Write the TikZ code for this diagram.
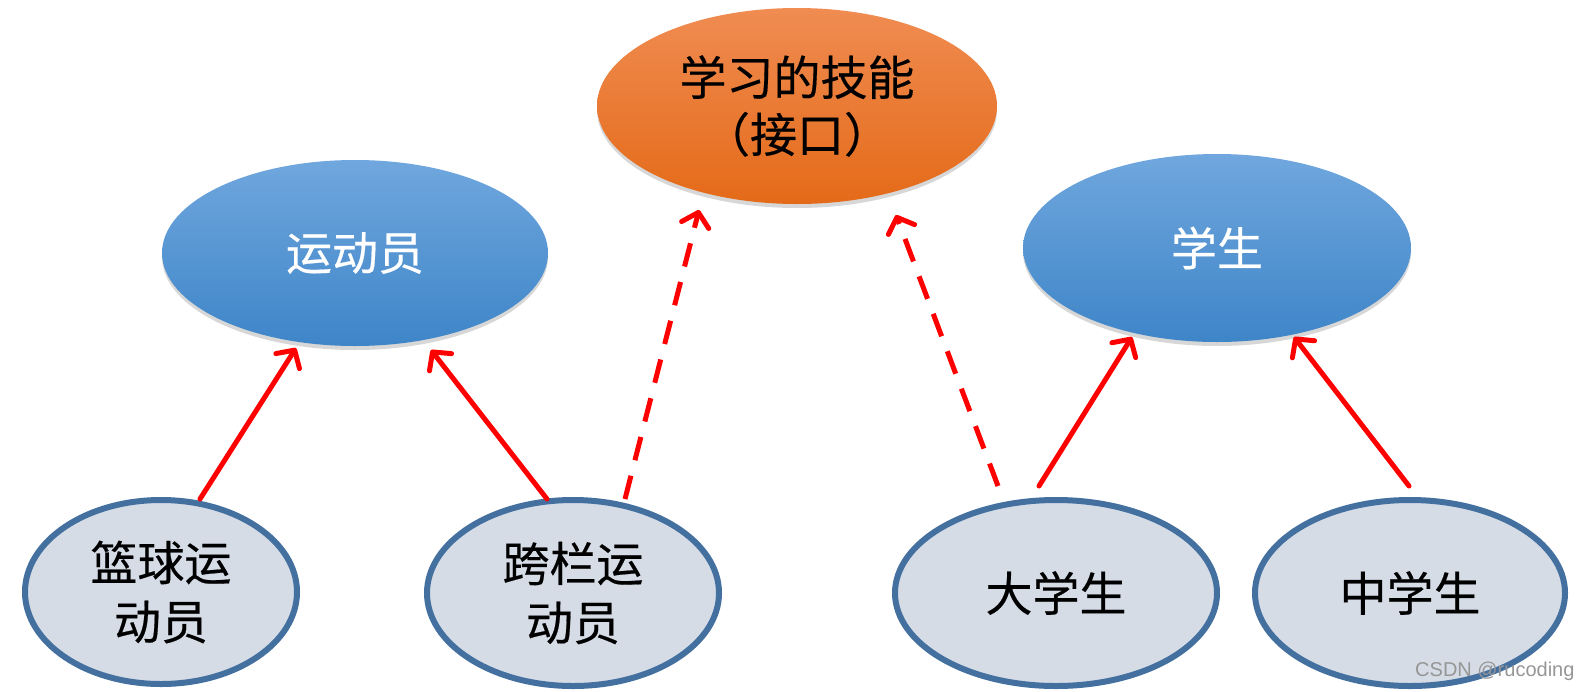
\documentclass[tikz,border=0pt]{standalone}
\usepackage{fontspec}
\newfontfamily\cjk{Noto Sans CJK SC}[FakeBold=0.4]
\newfontfamily\wmfont{Liberation Sans}
\usetikzlibrary{arrows.meta,shadows,shapes.geometric}
\definecolor{orangetop}{RGB}{240,140,82}
\definecolor{orangebot}{RGB}{228,106,24}
\definecolor{bluetop}{RGB}{112,167,222}
\definecolor{bluebot}{RGB}{62,133,200}
\definecolor{leaffill}{RGB}{213,220,230}
\definecolor{leafdraw}{RGB}{68,112,160}
\definecolor{arrred}{RGB}{255,0,0}
\definecolor{wmgray}{RGB}{150,150,150}
\tikzset{
  softshadow/.style={drop shadow={shadow xshift=0pt,shadow yshift=-4pt,opacity=0.22,fill=black!70}},
  topell/.style={ellipse, inner sep=0pt, top color=orangetop, bottom color=orangebot,
     softshadow, font=\cjk\fontsize{47}{57}\selectfont, text=black, align=center},
  midell/.style={ellipse, inner sep=0pt, top color=bluetop, bottom color=bluebot,
     softshadow, font=\cjk\fontsize{46}{50}\selectfont, text=white, align=center},
  leafell/.style={ellipse, inner sep=0pt, fill=leaffill, draw=leafdraw, line width=6pt,
     font=\cjk\fontsize{47}{59}\selectfont, text=black, align=center},
  solidarr/.style={draw=arrred, line width=5pt, line cap=round,
     -{Straight Barb[length=13pt,width=28pt,round]}},
  dasharr/.style={solidarr, dash pattern=on 24pt off 16pt, line cap=butt},
}
\begin{document}
\begin{tikzpicture}[x=1pt,y=-1pt]
\useasboundingbox (0,0) rectangle (1589,691);
\fill[white] (0,0) rectangle (1589,691);
% upper nodes
\node[topell, minimum width=400pt, minimum height=196pt] (skill) at (797,106) {学习的技能\\（接口）};
\node[midell, minimum width=386pt, minimum height=186pt] (athlete) at (355,253) {运动员};
\node[midell, minimum width=388pt, minimum height=188pt] (student) at (1217,248) {学生};
% lower nodes
\node[leafell, minimum width=272pt, minimum height=184pt] (basket) at (161,592) {篮球运\\动员};
\node[leafell, minimum width=292pt, minimum height=186pt] (hurdle) at (573,593) {跨栏运\\动员};
\node[leafell, minimum width=322pt, minimum height=186pt] (college) at (1056,593) {大学生};
\node[leafell, minimum width=310pt, minimum height=186pt] (middle) at (1410,593) {中学生};
% connector ends
\coordinate (b1) at (200,499);  \coordinate (a1) at (296,348);
\coordinate (h1) at (547,499);  \coordinate (a2) at (431,350);
\coordinate (h2) at (625,499);  \coordinate (s1) at (699,210);
\coordinate (c1) at (998,486);  \coordinate (s2) at (896,215);
\coordinate (c2) at (1039,486); \coordinate (t1) at (1132,337);
\coordinate (m1) at (1409,486); \coordinate (t2) at (1294,337);
\draw[solidarr] (b1) -- (a1);
\draw[solidarr] (h1) -- (a2);
\draw[dasharr] (h2) -- (s1);
\draw[dasharr] (c1) -- (s2);
\draw[solidarr] (c2) -- (t1);
\draw[solidarr] (m1) -- (t2);
\node[font=\wmfont\fontsize{20}{24}\selectfont, text=wmgray, anchor=east] (wm) at (1578,671) {CSDN @rucoding};
\end{tikzpicture}
\end{document}
